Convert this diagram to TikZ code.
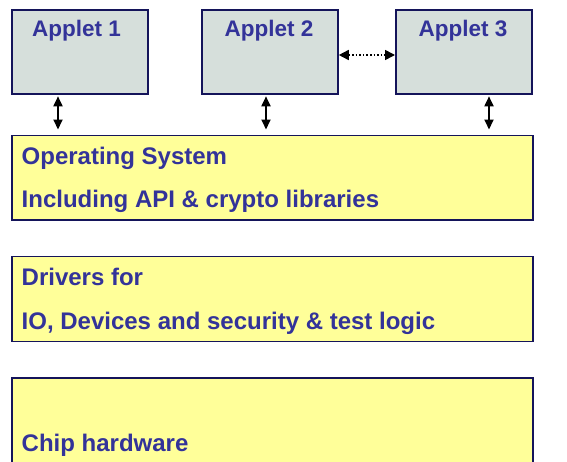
\documentclass[tikz,border=0pt]{standalone}
\usepackage{fontspec}
\setmainfont{Liberation Sans}
\usetikzlibrary{arrows.meta}
\definecolor{framenavy}{HTML}{14145A}
\definecolor{labelblue}{HTML}{333399}
\definecolor{appletfill}{HTML}{D6DFDB}
\definecolor{layerfill}{HTML}{FFFF99}
\tikzset{
  applet/.style={draw=framenavy, line width=1.8pt, fill=appletfill,
    minimum width=136pt, minimum height=84pt, inner sep=0pt},
  layer/.style={draw=framenavy, line width=1.8pt, fill=layerfill,
    minimum width=521pt, inner sep=0pt},
  label/.style={text=labelblue, font=\bfseries\fontsize{22.5}{26}\selectfont,
    inner sep=0pt, anchor=base},
  layertext/.style={text=labelblue, font=\bfseries\fontsize{24}{28}\selectfont,
    inner sep=0pt, anchor=base west},
  link/.style={line width=1.8pt, {Triangle[width=9pt,length=10pt]}-{Triangle[width=9pt,length=10pt]}},
  peer/.style={line width=1.6pt, dotted, {Triangle[width=10pt,length=10pt]}-{Triangle[width=10pt,length=10pt]}}
}
\begin{document}
\begin{tikzpicture}[x=1pt, y=-1pt]
  \useasboundingbox (0,0) rectangle (567,461);
  \clip (0,0) rectangle (567,461);

  % applets
  \node[applet, anchor=north west] (a1) at (11,9) {};
  \node[applet, anchor=north west] (a2) at (201,9) {};
  \node[applet, anchor=north west] (a3) at (395,9) {};
  \node[label] (t1) at (76.5,36) {Applet 1};
  \node[label] (t2) at (269,36) {Applet 2};
  \node[label] (t3) at (463,36) {Applet 3};

  % layers
  \node[layer, anchor=north west, minimum height=84.5pt] (os) at (11,134.5) {};
  \node[layer, anchor=north west, minimum height=85pt] (drv) at (11,255.5) {};
  \node[layer, anchor=north west, minimum height=110pt] (chip) at (11,377) {};

  \node[layertext] (os1) at (21.5,164) {Operating System};
  \node[layertext] (os2) at (21.5,207) {Including API \& crypto libraries};
  \node[layertext] (dr1) at (21.5,285.5) {Drivers for};
  \node[layertext] (dr2) at (21.5,329) {IO, Devices and security \& test logic};
  \node[layertext] (ch1) at (21.5,451) {Chip hardware};

  % connectors between applets and the operating system
  \coordinate (c1) at (58,0);
  \coordinate (c2) at (266,0);
  \coordinate (c3) at (489,0);
  \draw[link] ([yshift=-1.5pt]a1.south -| c1) -- ([yshift=5pt]os.north -| c1);
  \draw[link] ([yshift=-1.5pt]a2.south -| c2) -- ([yshift=5pt]os.north -| c2);
  \draw[link] ([yshift=-1.5pt]a3.south -| c3) -- ([yshift=5pt]os.north -| c3);

  % applet-to-applet link
  \coordinate (pl) at (0,55);
  \draw[peer] (a2.east |- pl) -- (a3.west |- pl);
\end{tikzpicture}
\end{document}
